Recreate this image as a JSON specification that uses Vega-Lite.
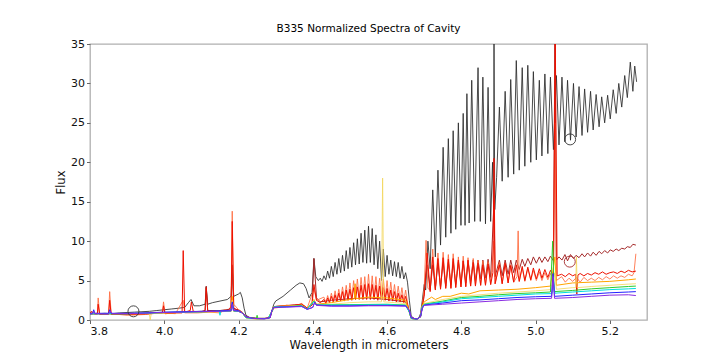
{
"$schema":"https://vega.github.io/schema/vega-lite/v6.json",
"width":557,"height":276,
"autosize":"none",
"padding":{"left":90,"top":44,"right":73,"bottom":40},
"background":"white",
"title":{"text":"B335 Normalized Spectra of Cavity","font":"DejaVu Sans","fontSize":10.5,"fontWeight":"normal","color":"#000","offset":4},
"config":{"view":{"stroke":"#b0b0b0","strokeWidth":1.3},
"axis":{"labelFont":"DejaVu Sans","titleFont":"DejaVu Sans","labelFontSize":11,"titleFontSize":11.5,"titleFontWeight":"normal","labelColor":"#111","titleColor":"#111","tickColor":"#666","tickSize":3.5,"domain":false,"grid":false,"labelPadding":2}},
"data":{"values":[
{"s":"k","x":3.8,"y":0.75},{"s":"k","x":3.82,"y":0.8},{"s":"k","x":3.84,"y":0.85},{"s":"k","x":3.86,"y":0.8},{"s":"k","x":3.88,"y":0.9},{"s":"k","x":3.9,"y":0.95},{"s":"k","x":3.92,"y":1.0},{"s":"k","x":3.94,"y":1.05},{"s":"k","x":3.96,"y":1.1},{"s":"k","x":3.98,"y":1.2},{"s":"k","x":4.0,"y":1.3},{"s":"k","x":4.02,"y":1.4},{"s":"k","x":4.04,"y":1.5},{"s":"k","x":4.055,"y":1.6},{"s":"k","x":4.065,"y":2.2},{"s":"k","x":4.072,"y":2.6},{"s":"k","x":4.08,"y":1.8},{"s":"k","x":4.095,"y":1.8},{"s":"k","x":4.11,"y":2.0},{"s":"k","x":4.113,"y":4.2},{"s":"k","x":4.117,"y":2.0},{"s":"k","x":4.13,"y":2.2},{"s":"k","x":4.15,"y":2.4},{"s":"k","x":4.17,"y":2.6},{"s":"k","x":4.18,"y":3.0},{"s":"k","x":4.183,"y":6.8},{"s":"k","x":4.187,"y":3.0},{"s":"k","x":4.2,"y":3.3},{"s":"k","x":4.205,"y":3.5},{"s":"k","x":4.21,"y":2.8},{"s":"k","x":4.215,"y":1.5},{"s":"k","x":4.22,"y":0.6},{"s":"k","x":4.23,"y":0.3},{"s":"k","x":4.25,"y":0.2},{"s":"k","x":4.27,"y":0.2},{"s":"k","x":4.285,"y":0.3},{"s":"k","x":4.29,"y":1.2},{"s":"k","x":4.295,"y":2.0},{"s":"k","x":4.3,"y":2.4},{"s":"k","x":4.32,"y":3.0},{"s":"k","x":4.34,"y":3.8},{"s":"k","x":4.355,"y":4.4},{"s":"k","x":4.365,"y":4.7},{"s":"k","x":4.375,"y":4.6},{"s":"k","x":4.382,"y":4.0},{"s":"k","x":4.39,"y":2.8},{"s":"k","x":4.398,"y":3.5},{"s":"k","x":4.403,"y":7.8},{"s":"k","x":4.408,"y":5.5},{"s":"k","x":4.415,"y":5.0},{"s":"k","x":4.42,"y":5.3},{"s":"k","x":4.425,"y":4.9},{"s":"k","x":4.43,"y":5.6},{"s":"k","x":4.435,"y":5.1},{"s":"k","x":4.44,"y":6.2},{"s":"k","x":4.445,"y":5.3},{"s":"k","x":4.45,"y":6.8},{"s":"k","x":4.455,"y":5.5},{"s":"k","x":4.46,"y":7.3},{"s":"k","x":4.465,"y":5.8},{"s":"k","x":4.47,"y":7.8},{"s":"k","x":4.475,"y":6.0},{"s":"k","x":4.48,"y":8.2},{"s":"k","x":4.485,"y":6.2},{"s":"k","x":4.49,"y":8.8},{"s":"k","x":4.495,"y":6.5},{"s":"k","x":4.5,"y":9.2},{"s":"k","x":4.505,"y":6.7},{"s":"k","x":4.51,"y":9.8},{"s":"k","x":4.515,"y":7.0},{"s":"k","x":4.52,"y":10.3},{"s":"k","x":4.525,"y":7.1},{"s":"k","x":4.53,"y":11.0},{"s":"k","x":4.535,"y":7.3},{"s":"k","x":4.54,"y":11.4},{"s":"k","x":4.545,"y":7.2},{"s":"k","x":4.55,"y":11.9},{"s":"k","x":4.555,"y":7.3},{"s":"k","x":4.56,"y":11.6},{"s":"k","x":4.565,"y":7.0},{"s":"k","x":4.57,"y":10.8},{"s":"k","x":4.575,"y":6.5},{"s":"k","x":4.58,"y":10.0},{"s":"k","x":4.585,"y":5.0},{"s":"k","x":4.59,"y":9.0},{"s":"k","x":4.595,"y":5.5},{"s":"k","x":4.6,"y":8.2},{"s":"k","x":4.605,"y":5.8},{"s":"k","x":4.61,"y":7.6},{"s":"k","x":4.615,"y":5.6},{"s":"k","x":4.62,"y":7.4},{"s":"k","x":4.625,"y":5.5},{"s":"k","x":4.63,"y":7.3},{"s":"k","x":4.635,"y":5.3},{"s":"k","x":4.64,"y":6.8},{"s":"k","x":4.645,"y":5.2},{"s":"k","x":4.65,"y":6.0},{"s":"k","x":4.655,"y":4.8},{"s":"k","x":4.66,"y":2.5},{"s":"k","x":4.665,"y":0.5},{"s":"k","x":4.675,"y":0.1},{"s":"k","x":4.685,"y":0.2},{"s":"k","x":4.69,"y":0.8},{"s":"k","x":4.695,"y":2.5},{"s":"k","x":4.7,"y":4.5},{"s":"k","x":4.704,"y":3.8},{"s":"k","x":4.71,"y":10.0},{"s":"k","x":4.716,"y":6.5},{"s":"k","x":4.723,"y":16.5},{"s":"k","x":4.73,"y":8.0},{"s":"k","x":4.737,"y":19.0},{"s":"k","x":4.744,"y":9.5},{"s":"k","x":4.751,"y":21.9},{"s":"k","x":4.758,"y":10.5},{"s":"k","x":4.765,"y":23.0},{"s":"k","x":4.772,"y":11.0},{"s":"k","x":4.778,"y":24.0},{"s":"k","x":4.785,"y":11.5},{"s":"k","x":4.792,"y":25.0},{"s":"k","x":4.799,"y":12.0},{"s":"k","x":4.805,"y":26.2},{"s":"k","x":4.81,"y":12.0},{"s":"k","x":4.815,"y":28.7},{"s":"k","x":4.821,"y":12.3},{"s":"k","x":4.828,"y":30.4},{"s":"k","x":4.836,"y":12.5},{"s":"k","x":4.845,"y":32.0},{"s":"k","x":4.851,"y":12.5},{"s":"k","x":4.858,"y":30.8},{"s":"k","x":4.865,"y":12.2},{"s":"k","x":4.872,"y":29.5},{"s":"k","x":4.879,"y":12.5},{"s":"k","x":4.884,"y":20.0},{"s":"k","x":4.887,"y":14.0},{"s":"k","x":4.888,"y":36.0},{"s":"k","x":4.89,"y":14.0},{"s":"k","x":4.895,"y":18.1},{"s":"k","x":4.9025,"y":27.0},{"s":"k","x":4.91,"y":17.6},{"s":"k","x":4.918,"y":29.0},{"s":"k","x":4.926,"y":18.1},{"s":"k","x":4.933,"y":30.5},{"s":"k","x":4.941,"y":18.5},{"s":"k","x":4.948,"y":32.9},{"s":"k","x":4.956,"y":19.0},{"s":"k","x":4.964,"y":32.0},{"s":"k","x":4.971,"y":19.5},{"s":"k","x":4.979,"y":32.3},{"s":"k","x":4.987,"y":20.0},{"s":"k","x":4.994,"y":31.5},{"s":"k","x":5.002,"y":20.3},{"s":"k","x":5.01,"y":30.4},{"s":"k","x":5.017,"y":20.8},{"s":"k","x":5.025,"y":31.2},{"s":"k","x":5.033,"y":21.1},{"s":"k","x":5.04,"y":30.8},{"s":"k","x":5.048,"y":21.6},{"s":"k","x":5.056,"y":31.0},{"s":"k","x":5.063,"y":22.2},{"s":"k","x":5.071,"y":30.8},{"s":"k","x":5.079,"y":22.6},{"s":"k","x":5.086,"y":30.4},{"s":"k","x":5.094,"y":22.8},{"s":"k","x":5.102,"y":30.0},{"s":"k","x":5.109,"y":23.2},{"s":"k","x":5.117,"y":29.6},{"s":"k","x":5.125,"y":23.4},{"s":"k","x":5.132,"y":29.3},{"s":"k","x":5.14,"y":23.8},{"s":"k","x":5.148,"y":29.0},{"s":"k","x":5.155,"y":24.1},{"s":"k","x":5.163,"y":28.6},{"s":"k","x":5.171,"y":24.5},{"s":"k","x":5.178,"y":28.3},{"s":"k","x":5.186,"y":25.0},{"s":"k","x":5.194,"y":28.5},{"s":"k","x":5.201,"y":25.5},{"s":"k","x":5.209,"y":29.2},{"s":"k","x":5.217,"y":26.2},{"s":"k","x":5.224,"y":30.0},{"s":"k","x":5.232,"y":27.0},{"s":"k","x":5.24,"y":31.0},{"s":"k","x":5.247,"y":28.2},{"s":"k","x":5.255,"y":32.7},{"s":"k","x":5.262,"y":29.0},{"s":"k","x":5.267,"y":32.2},{"s":"k","x":5.272,"y":30.2},

{"s":"b","x":3.8,"y":0.8},{"s":"b","x":3.85,"y":0.8},{"s":"b","x":3.9,"y":0.8},{"s":"b","x":3.95,"y":0.85},{"s":"b","x":4.0,"y":0.9},{"s":"b","x":4.05,"y":1.0},{"s":"b","x":4.1,"y":1.1},{"s":"b","x":4.11,"y":1.2},{"s":"b","x":4.113,"y":4.3},{"s":"b","x":4.117,"y":1.2},{"s":"b","x":4.15,"y":1.2},{"s":"b","x":4.18,"y":1.4},{"s":"b","x":4.183,"y":7.0},{"s":"b","x":4.187,"y":1.4},{"s":"b","x":4.2,"y":1.3},{"s":"b","x":4.21,"y":1.0},{"s":"b","x":4.22,"y":0.4},{"s":"b","x":4.25,"y":0.2},{"s":"b","x":4.28,"y":0.2},{"s":"b","x":4.29,"y":1.1},{"s":"b","x":4.295,"y":1.7},{"s":"b","x":4.35,"y":1.9},{"s":"b","x":4.37,"y":2.0},{"s":"b","x":4.385,"y":1.5},{"s":"b","x":4.398,"y":1.9},{"s":"b","x":4.403,"y":7.8},{"s":"b","x":4.41,"y":2.8},{"s":"b","x":4.42,"y":2.3},{"s":"b","x":4.45,"y":2.5},{"s":"b","x":4.5,"y":2.7},{"s":"b","x":4.55,"y":2.8},{"s":"b","x":4.6,"y":2.6},{"s":"b","x":4.65,"y":2.3},{"s":"b","x":4.66,"y":1.0},{"s":"b","x":4.665,"y":0.2},{"s":"b","x":4.68,"y":0.1},{"s":"b","x":4.69,"y":0.4},{"s":"b","x":4.695,"y":1.8},{"s":"b","x":4.7,"y":3.5},{"s":"b","x":4.708,"y":7.0},{"s":"b","x":4.716,"y":3.8},{"s":"b","x":4.723,"y":7.0},{"s":"b","x":4.73,"y":4.0},{"s":"b","x":4.737,"y":7.2},{"s":"b","x":4.744,"y":4.2},{"s":"b","x":4.751,"y":7.3},{"s":"b","x":4.758,"y":4.3},{"s":"b","x":4.765,"y":7.3},{"s":"b","x":4.772,"y":4.4},{"s":"b","x":4.778,"y":7.4},{"s":"b","x":4.785,"y":4.5},{"s":"b","x":4.792,"y":7.4},{"s":"b","x":4.799,"y":4.6},{"s":"b","x":4.805,"y":7.5},{"s":"b","x":4.812,"y":4.7},{"s":"b","x":4.818,"y":7.5},{"s":"b","x":4.825,"y":4.9},{"s":"b","x":4.832,"y":7.6},{"s":"b","x":4.838,"y":5.0},{"s":"b","x":4.845,"y":7.6},{"s":"b","x":4.852,"y":5.2},{"s":"b","x":4.858,"y":7.6},{"s":"b","x":4.865,"y":5.3},{"s":"b","x":4.872,"y":7.7},{"s":"b","x":4.879,"y":5.4},{"s":"b","x":4.888,"y":15.0},{"s":"b","x":4.891,"y":5.5},{"s":"b","x":4.9025,"y":7.6},{"s":"b","x":4.91,"y":5.6},{"s":"b","x":4.918,"y":7.6},{"s":"b","x":4.926,"y":5.8},{"s":"b","x":4.933,"y":7.6},{"s":"b","x":4.941,"y":6.0},{"s":"b","x":4.948,"y":7.6},{"s":"b","x":4.956,"y":6.4},{"s":"b","x":4.964,"y":7.7},{"s":"b","x":4.971,"y":6.8},{"s":"b","x":4.979,"y":7.8},{"s":"b","x":4.987,"y":7.0},{"s":"b","x":4.994,"y":8.0},{"s":"b","x":5.002,"y":7.2},{"s":"b","x":5.01,"y":8.0},{"s":"b","x":5.017,"y":7.3},{"s":"b","x":5.025,"y":8.0},{"s":"b","x":5.033,"y":7.4},{"s":"b","x":5.04,"y":8.1},{"s":"b","x":5.048,"y":7.5},{"s":"b","x":5.052,"y":36.0},{"s":"b","x":5.056,"y":7.6},{"s":"b","x":5.063,"y":8.0},{"s":"b","x":5.071,"y":7.6},{"s":"b","x":5.079,"y":8.3},{"s":"b","x":5.086,"y":7.5},{"s":"b","x":5.094,"y":8.3},{"s":"b","x":5.102,"y":7.8},{"s":"b","x":5.109,"y":8.2},{"s":"b","x":5.117,"y":7.9},{"s":"b","x":5.125,"y":8.4},{"s":"b","x":5.132,"y":8.0},{"s":"b","x":5.14,"y":8.5},{"s":"b","x":5.148,"y":8.1},{"s":"b","x":5.155,"y":8.6},{"s":"b","x":5.163,"y":8.2},{"s":"b","x":5.171,"y":8.7},{"s":"b","x":5.178,"y":8.4},{"s":"b","x":5.186,"y":8.8},{"s":"b","x":5.194,"y":8.5},{"s":"b","x":5.201,"y":8.9},{"s":"b","x":5.209,"y":8.7},{"s":"b","x":5.217,"y":9.0},{"s":"b","x":5.224,"y":8.8},{"s":"b","x":5.232,"y":9.1},{"s":"b","x":5.24,"y":9.0},{"s":"b","x":5.247,"y":9.3},{"s":"b","x":5.255,"y":9.2},{"s":"b","x":5.262,"y":9.6},{"s":"b","x":5.27,"y":9.5},

{"s":"t","x":3.8,"y":1.0},{"s":"t","x":3.815,"y":0.8},{"s":"t","x":3.82,"y":0.9},{"s":"t","x":3.822,"y":2.8},{"s":"t","x":3.826,"y":0.8},{"s":"t","x":3.85,"y":0.8},{"s":"t","x":3.853,"y":3.6},{"s":"t","x":3.857,"y":0.8},{"s":"t","x":3.9,"y":0.6},{"s":"t","x":3.95,"y":0.7},{"s":"t","x":3.995,"y":1.0},{"s":"t","x":3.998,"y":2.3},{"s":"t","x":4.002,"y":0.9},{"s":"t","x":4.03,"y":0.8},{"s":"t","x":4.051,"y":2.5},{"s":"t","x":4.055,"y":0.9},{"s":"t","x":4.09,"y":0.9},{"s":"t","x":4.12,"y":1.0},{"s":"t","x":4.15,"y":0.9},{"s":"t","x":4.165,"y":1.3},{"s":"t","x":4.175,"y":1.1},{"s":"t","x":4.18,"y":2.0},{"s":"t","x":4.183,"y":13.8},{"s":"t","x":4.187,"y":2.0},{"s":"t","x":4.2,"y":1.3},{"s":"t","x":4.21,"y":1.0},{"s":"t","x":4.22,"y":0.3},{"s":"t","x":4.25,"y":0.1},{"s":"t","x":4.28,"y":0.2},{"s":"t","x":4.29,"y":1.0},{"s":"t","x":4.295,"y":1.5},{"s":"t","x":4.31,"y":1.6},{"s":"t","x":4.33,"y":1.9},{"s":"t","x":4.35,"y":1.7},{"s":"t","x":4.37,"y":2.1},{"s":"t","x":4.385,"y":1.5},{"s":"t","x":4.403,"y":4.0},{"s":"t","x":4.41,"y":2.5},{"s":"t","x":4.43,"y":2.9},{"s":"t","x":4.435,"y":2.2},{"s":"t","x":4.44,"y":3.1},{"s":"t","x":4.445,"y":2.3},{"s":"t","x":4.45,"y":3.4},{"s":"t","x":4.455,"y":2.4},{"s":"t","x":4.46,"y":3.7},{"s":"t","x":4.465,"y":2.5},{"s":"t","x":4.47,"y":3.9},{"s":"t","x":4.475,"y":2.6},{"s":"t","x":4.48,"y":4.2},{"s":"t","x":4.485,"y":2.7},{"s":"t","x":4.49,"y":4.4},{"s":"t","x":4.495,"y":2.7},{"s":"t","x":4.5,"y":4.7},{"s":"t","x":4.505,"y":2.8},{"s":"t","x":4.51,"y":5.0},{"s":"t","x":4.515,"y":2.8},{"s":"t","x":4.52,"y":5.2},{"s":"t","x":4.525,"y":2.9},{"s":"t","x":4.53,"y":5.4},{"s":"t","x":4.535,"y":2.9},{"s":"t","x":4.54,"y":5.5},{"s":"t","x":4.545,"y":2.9},{"s":"t","x":4.55,"y":5.8},{"s":"t","x":4.555,"y":2.9},{"s":"t","x":4.56,"y":5.6},{"s":"t","x":4.565,"y":2.9},{"s":"t","x":4.57,"y":5.5},{"s":"t","x":4.575,"y":2.8},{"s":"t","x":4.58,"y":5.3},{"s":"t","x":4.585,"y":2.8},{"s":"t","x":4.59,"y":5.2},{"s":"t","x":4.595,"y":2.8},{"s":"t","x":4.6,"y":5.0},{"s":"t","x":4.605,"y":2.7},{"s":"t","x":4.61,"y":4.8},{"s":"t","x":4.615,"y":2.7},{"s":"t","x":4.62,"y":4.5},{"s":"t","x":4.625,"y":2.6},{"s":"t","x":4.63,"y":4.3},{"s":"t","x":4.635,"y":2.5},{"s":"t","x":4.64,"y":4.1},{"s":"t","x":4.645,"y":2.4},{"s":"t","x":4.65,"y":3.8},{"s":"t","x":4.655,"y":2.2},{"s":"t","x":4.66,"y":1.0},{"s":"t","x":4.665,"y":0.2},{"s":"t","x":4.68,"y":0.1},{"s":"t","x":4.69,"y":0.4},{"s":"t","x":4.695,"y":2.0},{"s":"t","x":4.7,"y":4.0},{"s":"t","x":4.705,"y":10.1},{"s":"t","x":4.71,"y":4.0},{"s":"t","x":4.716,"y":3.8},{"s":"t","x":4.723,"y":9.0},{"s":"t","x":4.73,"y":3.9},{"s":"t","x":4.737,"y":8.5},{"s":"t","x":4.744,"y":4.0},{"s":"t","x":4.751,"y":8.6},{"s":"t","x":4.758,"y":4.1},{"s":"t","x":4.765,"y":8.3},{"s":"t","x":4.772,"y":4.1},{"s":"t","x":4.778,"y":8.4},{"s":"t","x":4.785,"y":4.2},{"s":"t","x":4.792,"y":8.0},{"s":"t","x":4.799,"y":4.2},{"s":"t","x":4.805,"y":8.1},{"s":"t","x":4.812,"y":4.3},{"s":"t","x":4.818,"y":7.9},{"s":"t","x":4.825,"y":4.3},{"s":"t","x":4.832,"y":7.8},{"s":"t","x":4.838,"y":4.4},{"s":"t","x":4.845,"y":7.6},{"s":"t","x":4.852,"y":4.4},{"s":"t","x":4.858,"y":7.5},{"s":"t","x":4.865,"y":4.5},{"s":"t","x":4.872,"y":7.4},{"s":"t","x":4.879,"y":4.5},{"s":"t","x":4.888,"y":10.0},{"s":"t","x":4.891,"y":4.6},{"s":"t","x":4.9025,"y":7.3},{"s":"t","x":4.91,"y":4.6},{"s":"t","x":4.918,"y":7.2},{"s":"t","x":4.926,"y":4.7},{"s":"t","x":4.933,"y":7.0},{"s":"t","x":4.941,"y":4.8},{"s":"t","x":4.95,"y":5.5},{"s":"t","x":4.953,"y":11.3},{"s":"t","x":4.956,"y":4.9},{"s":"t","x":4.964,"y":6.6},{"s":"t","x":4.971,"y":4.9},{"s":"t","x":4.979,"y":6.5},{"s":"t","x":4.987,"y":5.0},{"s":"t","x":4.994,"y":6.3},{"s":"t","x":5.002,"y":5.0},{"s":"t","x":5.01,"y":6.1},{"s":"t","x":5.017,"y":5.0},{"s":"t","x":5.025,"y":6.0},{"s":"t","x":5.033,"y":5.1},{"s":"t","x":5.04,"y":5.9},{"s":"t","x":5.048,"y":5.1},{"s":"t","x":5.052,"y":25.0},{"s":"t","x":5.056,"y":5.0},{"s":"t","x":5.07,"y":5.5},{"s":"t","x":5.08,"y":4.8},{"s":"t","x":5.09,"y":5.3},{"s":"t","x":5.1,"y":4.9},{"s":"t","x":5.11,"y":5.4},{"s":"t","x":5.12,"y":4.8},{"s":"t","x":5.13,"y":5.4},{"s":"t","x":5.14,"y":5.0},{"s":"t","x":5.15,"y":5.3},{"s":"t","x":5.16,"y":5.0},{"s":"t","x":5.17,"y":5.4},{"s":"t","x":5.18,"y":5.1},{"s":"t","x":5.19,"y":5.5},{"s":"t","x":5.2,"y":5.2},{"s":"t","x":5.21,"y":5.6},{"s":"t","x":5.22,"y":5.3},{"s":"t","x":5.23,"y":5.6},{"s":"t","x":5.24,"y":5.4},{"s":"t","x":5.25,"y":5.8},{"s":"t","x":5.26,"y":5.6},{"s":"t","x":5.265,"y":6.0},{"s":"t","x":5.27,"y":8.4},

{"s":"r","x":3.8,"y":0.9},{"s":"r","x":3.805,"y":1.1},{"s":"r","x":3.81,"y":0.8},{"s":"r","x":3.82,"y":0.75},{"s":"r","x":3.822,"y":2.0},{"s":"r","x":3.826,"y":0.7},{"s":"r","x":3.85,"y":0.7},{"s":"r","x":3.853,"y":2.5},{"s":"r","x":3.857,"y":0.7},{"s":"r","x":3.9,"y":0.7},{"s":"r","x":3.95,"y":0.75},{"s":"r","x":3.995,"y":0.9},{"s":"r","x":3.998,"y":1.8},{"s":"r","x":4.002,"y":0.8},{"s":"r","x":4.03,"y":0.9},{"s":"r","x":4.048,"y":0.9},{"s":"r","x":4.051,"y":8.8},{"s":"r","x":4.055,"y":1.0},{"s":"r","x":4.07,"y":1.2},{"s":"r","x":4.073,"y":2.3},{"s":"r","x":4.078,"y":1.1},{"s":"r","x":4.1,"y":1.0},{"s":"r","x":4.11,"y":1.2},{"s":"r","x":4.113,"y":4.1},{"s":"r","x":4.117,"y":1.1},{"s":"r","x":4.15,"y":1.1},{"s":"r","x":4.17,"y":1.2},{"s":"r","x":4.18,"y":1.6},{"s":"r","x":4.183,"y":12.5},{"s":"r","x":4.187,"y":1.5},{"s":"r","x":4.2,"y":1.2},{"s":"r","x":4.21,"y":0.9},{"s":"r","x":4.22,"y":0.4},{"s":"r","x":4.24,"y":0.2},{"s":"r","x":4.27,"y":0.2},{"s":"r","x":4.285,"y":0.3},{"s":"r","x":4.29,"y":1.2},{"s":"r","x":4.295,"y":1.7},{"s":"r","x":4.32,"y":1.8},{"s":"r","x":4.35,"y":1.9},{"s":"r","x":4.37,"y":2.0},{"s":"r","x":4.385,"y":1.5},{"s":"r","x":4.398,"y":1.9},{"s":"r","x":4.403,"y":4.5},{"s":"r","x":4.41,"y":2.5},{"s":"r","x":4.42,"y":2.2},{"s":"r","x":4.43,"y":2.6},{"s":"r","x":4.435,"y":2.1},{"s":"r","x":4.44,"y":2.8},{"s":"r","x":4.445,"y":2.2},{"s":"r","x":4.45,"y":3.0},{"s":"r","x":4.455,"y":2.3},{"s":"r","x":4.46,"y":3.2},{"s":"r","x":4.465,"y":2.3},{"s":"r","x":4.47,"y":3.4},{"s":"r","x":4.475,"y":2.4},{"s":"r","x":4.48,"y":3.6},{"s":"r","x":4.485,"y":2.4},{"s":"r","x":4.49,"y":3.8},{"s":"r","x":4.495,"y":2.5},{"s":"r","x":4.5,"y":3.9},{"s":"r","x":4.505,"y":2.5},{"s":"r","x":4.51,"y":4.1},{"s":"r","x":4.515,"y":2.6},{"s":"r","x":4.52,"y":4.2},{"s":"r","x":4.525,"y":2.6},{"s":"r","x":4.53,"y":4.4},{"s":"r","x":4.535,"y":2.6},{"s":"r","x":4.54,"y":4.5},{"s":"r","x":4.545,"y":2.6},{"s":"r","x":4.55,"y":4.6},{"s":"r","x":4.555,"y":2.6},{"s":"r","x":4.56,"y":4.5},{"s":"r","x":4.565,"y":2.6},{"s":"r","x":4.57,"y":4.4},{"s":"r","x":4.575,"y":2.5},{"s":"r","x":4.58,"y":4.3},{"s":"r","x":4.585,"y":2.5},{"s":"r","x":4.59,"y":4.1},{"s":"r","x":4.595,"y":2.5},{"s":"r","x":4.6,"y":4.0},{"s":"r","x":4.605,"y":2.4},{"s":"r","x":4.61,"y":3.8},{"s":"r","x":4.615,"y":2.4},{"s":"r","x":4.62,"y":3.6},{"s":"r","x":4.625,"y":2.3},{"s":"r","x":4.63,"y":3.4},{"s":"r","x":4.635,"y":2.3},{"s":"r","x":4.64,"y":3.2},{"s":"r","x":4.645,"y":2.2},{"s":"r","x":4.65,"y":3.0},{"s":"r","x":4.655,"y":2.0},{"s":"r","x":4.66,"y":1.0},{"s":"r","x":4.665,"y":0.3},{"s":"r","x":4.68,"y":0.1},{"s":"r","x":4.69,"y":0.4},{"s":"r","x":4.695,"y":1.8},{"s":"r","x":4.7,"y":3.0},{"s":"r","x":4.708,"y":8.5},{"s":"r","x":4.716,"y":3.6},{"s":"r","x":4.723,"y":8.0},{"s":"r","x":4.73,"y":3.8},{"s":"r","x":4.737,"y":7.8},{"s":"r","x":4.744,"y":3.9},{"s":"r","x":4.751,"y":7.9},{"s":"r","x":4.758,"y":4.0},{"s":"r","x":4.765,"y":7.7},{"s":"r","x":4.772,"y":4.0},{"s":"r","x":4.778,"y":7.8},{"s":"r","x":4.785,"y":4.1},{"s":"r","x":4.792,"y":7.6},{"s":"r","x":4.799,"y":4.2},{"s":"r","x":4.805,"y":7.5},{"s":"r","x":4.812,"y":4.2},{"s":"r","x":4.818,"y":7.6},{"s":"r","x":4.825,"y":4.3},{"s":"r","x":4.832,"y":7.3},{"s":"r","x":4.838,"y":4.3},{"s":"r","x":4.845,"y":7.2},{"s":"r","x":4.852,"y":4.4},{"s":"r","x":4.858,"y":7.0},{"s":"r","x":4.865,"y":4.4},{"s":"r","x":4.872,"y":7.1},{"s":"r","x":4.879,"y":4.5},{"s":"r","x":4.885,"y":6.0},{"s":"r","x":4.888,"y":20.5},{"s":"r","x":4.891,"y":4.6},{"s":"r","x":4.9025,"y":7.0},{"s":"r","x":4.91,"y":4.6},{"s":"r","x":4.918,"y":7.2},{"s":"r","x":4.926,"y":4.7},{"s":"r","x":4.933,"y":6.9},{"s":"r","x":4.941,"y":4.8},{"s":"r","x":4.948,"y":7.0},{"s":"r","x":4.956,"y":4.9},{"s":"r","x":4.964,"y":6.8},{"s":"r","x":4.971,"y":5.0},{"s":"r","x":4.979,"y":6.7},{"s":"r","x":4.987,"y":5.1},{"s":"r","x":4.994,"y":6.6},{"s":"r","x":5.002,"y":5.2},{"s":"r","x":5.01,"y":6.5},{"s":"r","x":5.017,"y":5.3},{"s":"r","x":5.025,"y":6.4},{"s":"r","x":5.033,"y":5.4},{"s":"r","x":5.04,"y":6.3},{"s":"r","x":5.048,"y":5.5},{"s":"r","x":5.053,"y":36.0},{"s":"r","x":5.058,"y":5.6},{"s":"r","x":5.07,"y":5.8},{"s":"r","x":5.08,"y":5.5},{"s":"r","x":5.09,"y":5.9},{"s":"r","x":5.1,"y":5.6},{"s":"r","x":5.108,"y":5.8},{"s":"r","x":5.111,"y":3.3},{"s":"r","x":5.114,"y":5.7},{"s":"r","x":5.12,"y":5.9},{"s":"r","x":5.13,"y":5.6},{"s":"r","x":5.14,"y":5.9},{"s":"r","x":5.15,"y":5.7},{"s":"r","x":5.16,"y":6.0},{"s":"r","x":5.17,"y":5.8},{"s":"r","x":5.18,"y":6.1},{"s":"r","x":5.19,"y":5.8},{"s":"r","x":5.2,"y":6.0},{"s":"r","x":5.21,"y":6.1},{"s":"r","x":5.22,"y":5.9},{"s":"r","x":5.23,"y":6.2},{"s":"r","x":5.24,"y":6.0},{"s":"r","x":5.25,"y":6.3},{"s":"r","x":5.26,"y":6.1},{"s":"r","x":5.27,"y":6.2},

{"s":"o","x":3.8,"y":0.85},{"s":"o","x":3.85,"y":0.8},{"s":"o","x":3.9,"y":0.8},{"s":"o","x":4.0,"y":0.9},{"s":"o","x":4.1,"y":1.0},{"s":"o","x":4.18,"y":1.1},{"s":"o","x":4.183,"y":3.0},{"s":"o","x":4.187,"y":1.1},{"s":"o","x":4.2,"y":1.1},{"s":"o","x":4.21,"y":0.9},{"s":"o","x":4.22,"y":0.3},{"s":"o","x":4.25,"y":0.15},{"s":"o","x":4.28,"y":0.2},{"s":"o","x":4.29,"y":1.1},{"s":"o","x":4.295,"y":1.7},{"s":"o","x":4.35,"y":1.8},{"s":"o","x":4.37,"y":1.9},{"s":"o","x":4.385,"y":1.4},{"s":"o","x":4.403,"y":2.6},{"s":"o","x":4.41,"y":2.0},{"s":"o","x":4.45,"y":2.2},{"s":"o","x":4.5,"y":2.6},{"s":"o","x":4.512,"y":2.7},{"s":"o","x":4.514,"y":4.6},{"s":"o","x":4.516,"y":2.7},{"s":"o","x":4.55,"y":2.9},{"s":"o","x":4.6,"y":2.8},{"s":"o","x":4.65,"y":2.5},{"s":"o","x":4.66,"y":1.0},{"s":"o","x":4.665,"y":0.2},{"s":"o","x":4.68,"y":0.1},{"s":"o","x":4.69,"y":0.4},{"s":"o","x":4.695,"y":1.8},{"s":"o","x":4.7,"y":2.3},{"s":"o","x":4.72,"y":2.9},{"s":"o","x":4.73,"y":2.6},{"s":"o","x":4.75,"y":3.0},{"s":"o","x":4.77,"y":3.0},{"s":"o","x":4.8,"y":3.4},{"s":"o","x":4.82,"y":3.3},{"s":"o","x":4.85,"y":3.7},{"s":"o","x":4.9,"y":3.8},{"s":"o","x":4.95,"y":3.9},{"s":"o","x":5.0,"y":4.1},{"s":"o","x":5.04,"y":4.3},{"s":"o","x":5.052,"y":8.0},{"s":"o","x":5.056,"y":4.4},{"s":"o","x":5.1,"y":4.7},{"s":"o","x":5.15,"y":4.8},{"s":"o","x":5.2,"y":4.9},{"s":"o","x":5.25,"y":5.1},{"s":"o","x":5.27,"y":5.2},

{"s":"g","x":3.8,"y":0.8},{"s":"g","x":3.9,"y":0.8},{"s":"g","x":3.96,"y":0.8},{"s":"g","x":3.962,"y":0.0},{"s":"g","x":3.965,"y":0.8},{"s":"g","x":4.0,"y":0.9},{"s":"g","x":4.1,"y":1.0},{"s":"g","x":4.18,"y":1.1},{"s":"g","x":4.183,"y":2.5},{"s":"g","x":4.187,"y":1.1},{"s":"g","x":4.2,"y":1.1},{"s":"g","x":4.21,"y":0.9},{"s":"g","x":4.22,"y":0.3},{"s":"g","x":4.25,"y":0.1},{"s":"g","x":4.28,"y":0.2},{"s":"g","x":4.29,"y":1.1},{"s":"g","x":4.295,"y":1.7},{"s":"g","x":4.35,"y":1.8},{"s":"g","x":4.37,"y":1.85},{"s":"g","x":4.385,"y":1.4},{"s":"g","x":4.403,"y":2.5},{"s":"g","x":4.41,"y":1.95},{"s":"g","x":4.45,"y":2.0},{"s":"g","x":4.5,"y":2.2},{"s":"g","x":4.55,"y":2.3},{"s":"g","x":4.585,"y":2.3},{"s":"g","x":4.588,"y":18.0},{"s":"g","x":4.591,"y":2.3},{"s":"g","x":4.62,"y":2.2},{"s":"g","x":4.65,"y":2.1},{"s":"g","x":4.66,"y":1.0},{"s":"g","x":4.665,"y":0.2},{"s":"g","x":4.68,"y":0.1},{"s":"g","x":4.69,"y":0.4},{"s":"g","x":4.695,"y":1.8},{"s":"g","x":4.7,"y":2.1},{"s":"g","x":4.75,"y":2.6},{"s":"g","x":4.8,"y":3.0},{"s":"g","x":4.85,"y":3.2},{"s":"g","x":4.9,"y":3.4},{"s":"g","x":4.95,"y":3.55},{"s":"g","x":5.0,"y":3.7},{"s":"g","x":5.04,"y":3.85},{"s":"g","x":5.052,"y":6.0},{"s":"g","x":5.056,"y":3.9},{"s":"g","x":5.1,"y":4.1},{"s":"g","x":5.108,"y":4.1},{"s":"g","x":5.11,"y":8.0},{"s":"g","x":5.112,"y":4.1},{"s":"g","x":5.15,"y":4.25},{"s":"g","x":5.2,"y":4.4},{"s":"g","x":5.25,"y":4.55},{"s":"g","x":5.27,"y":4.6},

{"s":"gr","x":3.8,"y":0.8},{"s":"gr","x":3.9,"y":0.8},{"s":"gr","x":4.0,"y":0.95},{"s":"gr","x":4.1,"y":1.05},{"s":"gr","x":4.18,"y":1.15},{"s":"gr","x":4.183,"y":2.0},{"s":"gr","x":4.187,"y":1.15},{"s":"gr","x":4.2,"y":1.1},{"s":"gr","x":4.21,"y":0.9},{"s":"gr","x":4.22,"y":0.3},{"s":"gr","x":4.248,"y":0.2},{"s":"gr","x":4.25,"y":0.6},{"s":"gr","x":4.252,"y":0.2},{"s":"gr","x":4.28,"y":0.2},{"s":"gr","x":4.29,"y":1.1},{"s":"gr","x":4.295,"y":1.65},{"s":"gr","x":4.35,"y":1.75},{"s":"gr","x":4.37,"y":1.8},{"s":"gr","x":4.385,"y":1.4},{"s":"gr","x":4.403,"y":2.4},{"s":"gr","x":4.41,"y":1.9},{"s":"gr","x":4.5,"y":1.95},{"s":"gr","x":4.6,"y":2.0},{"s":"gr","x":4.65,"y":1.9},{"s":"gr","x":4.66,"y":1.0},{"s":"gr","x":4.665,"y":0.2},{"s":"gr","x":4.68,"y":0.1},{"s":"gr","x":4.69,"y":0.4},{"s":"gr","x":4.695,"y":1.7},{"s":"gr","x":4.7,"y":2.0},{"s":"gr","x":4.75,"y":2.4},{"s":"gr","x":4.8,"y":2.85},{"s":"gr","x":4.85,"y":3.0},{"s":"gr","x":4.9,"y":3.2},{"s":"gr","x":4.95,"y":3.35},{"s":"gr","x":5.0,"y":3.45},{"s":"gr","x":5.04,"y":3.55},{"s":"gr","x":5.046,"y":10.0},{"s":"gr","x":5.05,"y":3.6},{"s":"gr","x":5.1,"y":3.75},{"s":"gr","x":5.15,"y":3.95},{"s":"gr","x":5.2,"y":4.1},{"s":"gr","x":5.25,"y":4.25},{"s":"gr","x":5.27,"y":4.3},

{"s":"c","x":3.8,"y":0.8},{"s":"c","x":3.9,"y":0.8},{"s":"c","x":4.0,"y":0.95},{"s":"c","x":4.1,"y":1.05},{"s":"c","x":4.148,"y":1.1},{"s":"c","x":4.15,"y":0.6},{"s":"c","x":4.152,"y":1.1},{"s":"c","x":4.18,"y":1.15},{"s":"c","x":4.183,"y":2.1},{"s":"c","x":4.187,"y":1.15},{"s":"c","x":4.2,"y":1.1},{"s":"c","x":4.21,"y":0.9},{"s":"c","x":4.22,"y":0.3},{"s":"c","x":4.25,"y":0.15},{"s":"c","x":4.28,"y":0.2},{"s":"c","x":4.29,"y":1.1},{"s":"c","x":4.295,"y":1.65},{"s":"c","x":4.35,"y":1.72},{"s":"c","x":4.37,"y":1.78},{"s":"c","x":4.385,"y":1.4},{"s":"c","x":4.403,"y":2.35},{"s":"c","x":4.41,"y":1.9},{"s":"c","x":4.5,"y":1.9},{"s":"c","x":4.6,"y":1.95},{"s":"c","x":4.65,"y":1.85},{"s":"c","x":4.66,"y":1.0},{"s":"c","x":4.665,"y":0.2},{"s":"c","x":4.68,"y":0.1},{"s":"c","x":4.69,"y":0.4},{"s":"c","x":4.695,"y":1.7},{"s":"c","x":4.7,"y":1.95},{"s":"c","x":4.75,"y":2.3},{"s":"c","x":4.8,"y":2.7},{"s":"c","x":4.85,"y":2.85},{"s":"c","x":4.9,"y":3.0},{"s":"c","x":4.95,"y":3.15},{"s":"c","x":5.0,"y":3.3},{"s":"c","x":5.044,"y":3.35},{"s":"c","x":5.048,"y":5.0},{"s":"c","x":5.052,"y":3.4},{"s":"c","x":5.1,"y":3.55},{"s":"c","x":5.15,"y":3.7},{"s":"c","x":5.2,"y":3.85},{"s":"c","x":5.25,"y":3.95},{"s":"c","x":5.27,"y":4.0},

{"s":"bl","x":3.8,"y":0.85},{"s":"bl","x":3.807,"y":0.85},{"s":"bl","x":3.81,"y":1.3},{"s":"bl","x":3.813,"y":0.85},{"s":"bl","x":3.85,"y":0.85},{"s":"bl","x":3.853,"y":1.3},{"s":"bl","x":3.857,"y":0.85},{"s":"bl","x":3.9,"y":0.85},{"s":"bl","x":3.95,"y":0.9},{"s":"bl","x":4.0,"y":1.0},{"s":"bl","x":4.05,"y":1.05},{"s":"bl","x":4.1,"y":1.1},{"s":"bl","x":4.15,"y":1.15},{"s":"bl","x":4.18,"y":1.25},{"s":"bl","x":4.183,"y":2.3},{"s":"bl","x":4.187,"y":1.25},{"s":"bl","x":4.2,"y":1.2},{"s":"bl","x":4.21,"y":0.9},{"s":"bl","x":4.22,"y":0.4},{"s":"bl","x":4.24,"y":0.2},{"s":"bl","x":4.27,"y":0.15},{"s":"bl","x":4.285,"y":0.3},{"s":"bl","x":4.29,"y":1.2},{"s":"bl","x":4.295,"y":1.6},{"s":"bl","x":4.33,"y":1.65},{"s":"bl","x":4.37,"y":1.75},{"s":"bl","x":4.385,"y":1.35},{"s":"bl","x":4.4,"y":1.6},{"s":"bl","x":4.405,"y":2.3},{"s":"bl","x":4.41,"y":1.9},{"s":"bl","x":4.45,"y":1.8},{"s":"bl","x":4.5,"y":1.8},{"s":"bl","x":4.55,"y":1.85},{"s":"bl","x":4.6,"y":1.85},{"s":"bl","x":4.65,"y":1.8},{"s":"bl","x":4.66,"y":1.2},{"s":"bl","x":4.665,"y":0.3},{"s":"bl","x":4.68,"y":0.1},{"s":"bl","x":4.69,"y":0.4},{"s":"bl","x":4.695,"y":1.5},{"s":"bl","x":4.7,"y":1.9},{"s":"bl","x":4.75,"y":2.15},{"s":"bl","x":4.8,"y":2.45},{"s":"bl","x":4.85,"y":2.55},{"s":"bl","x":4.9,"y":2.7},{"s":"bl","x":4.95,"y":2.85},{"s":"bl","x":5.0,"y":2.95},{"s":"bl","x":5.043,"y":3.0},{"s":"bl","x":5.047,"y":5.9},{"s":"bl","x":5.051,"y":3.0},{"s":"bl","x":5.1,"y":3.15},{"s":"bl","x":5.15,"y":3.3},{"s":"bl","x":5.2,"y":3.45},{"s":"bl","x":5.25,"y":3.55},{"s":"bl","x":5.27,"y":3.6},

{"s":"p","x":3.8,"y":0.75},{"s":"p","x":3.807,"y":0.8},{"s":"p","x":3.81,"y":1.1},{"s":"p","x":3.813,"y":0.8},{"s":"p","x":3.85,"y":0.75},{"s":"p","x":3.855,"y":1.1},{"s":"p","x":3.86,"y":0.8},{"s":"p","x":3.9,"y":0.8},{"s":"p","x":4.0,"y":0.95},{"s":"p","x":4.05,"y":1.0},{"s":"p","x":4.1,"y":1.05},{"s":"p","x":4.15,"y":1.1},{"s":"p","x":4.18,"y":1.15},{"s":"p","x":4.183,"y":2.0},{"s":"p","x":4.186,"y":1.2},{"s":"p","x":4.2,"y":1.1},{"s":"p","x":4.21,"y":0.9},{"s":"p","x":4.22,"y":0.4},{"s":"p","x":4.24,"y":0.2},{"s":"p","x":4.27,"y":0.15},{"s":"p","x":4.285,"y":0.3},{"s":"p","x":4.29,"y":1.2},{"s":"p","x":4.295,"y":1.6},{"s":"p","x":4.33,"y":1.65},{"s":"p","x":4.37,"y":1.7},{"s":"p","x":4.385,"y":1.35},{"s":"p","x":4.4,"y":1.6},{"s":"p","x":4.405,"y":2.2},{"s":"p","x":4.41,"y":1.85},{"s":"p","x":4.45,"y":1.75},{"s":"p","x":4.5,"y":1.75},{"s":"p","x":4.55,"y":1.8},{"s":"p","x":4.6,"y":1.8},{"s":"p","x":4.65,"y":1.75},{"s":"p","x":4.66,"y":1.2},{"s":"p","x":4.665,"y":0.3},{"s":"p","x":4.68,"y":0.1},{"s":"p","x":4.69,"y":0.4},{"s":"p","x":4.695,"y":1.5},{"s":"p","x":4.7,"y":1.85},{"s":"p","x":4.75,"y":2.0},{"s":"p","x":4.8,"y":2.15},{"s":"p","x":4.85,"y":2.3},{"s":"p","x":4.9,"y":2.45},{"s":"p","x":4.95,"y":2.6},{"s":"p","x":5.0,"y":2.7},{"s":"p","x":5.043,"y":2.75},{"s":"p","x":5.047,"y":5.5},{"s":"p","x":5.051,"y":2.75},{"s":"p","x":5.1,"y":2.85},{"s":"p","x":5.15,"y":3.0},{"s":"p","x":5.2,"y":3.15},{"s":"p","x":5.25,"y":3.2},{"s":"p","x":5.27,"y":3.1},

{"s":"mk","x":3.917,"y":1.1},{"s":"mk","x":5.093,"y":22.9},{"s":"mb","x":5.092,"y":7.4}
]},
"encoding":{
"x":{"field":"x","type":"quantitative","scale":{"domain":[3.8,5.3],"nice":false,"zero":false},"axis":{"values":[3.8,4.0,4.2,4.4,4.6,4.8,5.0,5.2],"format":".1f","title":"Wavelength in micrometers","titlePadding":3}},
"y":{"field":"y","type":"quantitative","scale":{"domain":[0,35],"nice":false,"zero":false},"axis":{"values":[0,5,10,15,20,25,30,35],"title":"Flux","titlePadding":4}}
},
"layer":[
{"transform":[{"filter":"datum.s=='k'"}],"mark":{"type":"line","color":"#2a2a2a","strokeWidth":0.85,"clip":true}},
{"transform":[{"filter":"datum.s=='b'"}],"mark":{"type":"line","color":"#a52a2a","strokeWidth":1,"clip":true}},
{"transform":[{"filter":"datum.s=='t'"}],"mark":{"type":"line","color":"#ff6a3d","strokeWidth":1,"opacity":0.85,"clip":true}},
{"transform":[{"filter":"datum.s=='r'"}],"mark":{"type":"line","color":"#ee1100","strokeWidth":1,"clip":true}},
{"transform":[{"filter":"datum.s=='o'"}],"mark":{"type":"line","color":"#ffa500","strokeWidth":1,"clip":true}},
{"transform":[{"filter":"datum.s=='g'"}],"mark":{"type":"line","color":"#f2d65a","strokeWidth":1,"opacity":0.8,"clip":true}},
{"transform":[{"filter":"datum.s=='gr'"}],"mark":{"type":"line","color":"#2ecc2e","strokeWidth":1,"clip":true}},
{"transform":[{"filter":"datum.s=='c'"}],"mark":{"type":"line","color":"#00dede","strokeWidth":1,"clip":true}},
{"transform":[{"filter":"datum.s=='bl'"}],"mark":{"type":"line","color":"#2222ff","strokeWidth":1,"clip":true}},
{"transform":[{"filter":"datum.s=='p'"}],"mark":{"type":"line","color":"#8a2be2","strokeWidth":1,"clip":true}},
{"transform":[{"filter":"datum.s=='mk'"}],"mark":{"type":"point","shape":"circle","size":120,"filled":false,"color":"#333","strokeWidth":0.9,"opacity":1}},
{"transform":[{"filter":"datum.s=='mb'"}],"mark":{"type":"point","shape":"circle","size":120,"filled":false,"color":"#a52a2a","strokeWidth":0.9,"opacity":1}}
]
}
